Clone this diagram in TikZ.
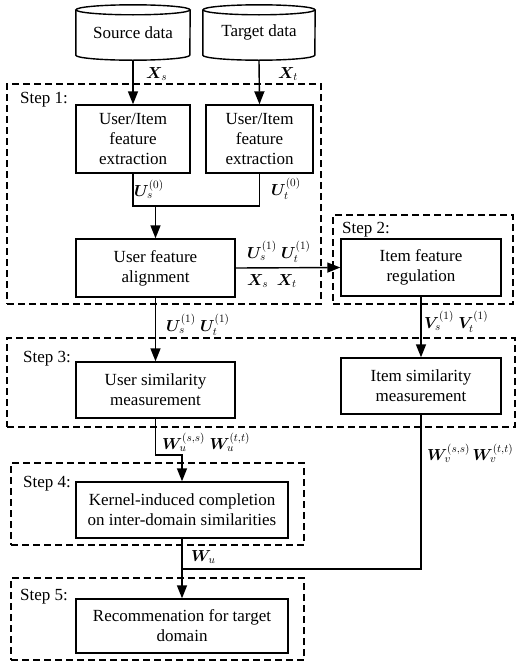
\RequirePackage{fix-cm}
\documentclass[tikz,border=0pt]{standalone}
\usepackage{amsmath,bm}
\usepackage{fontspec}
\setmainfont{Liberation Serif}
\usetikzlibrary{arrows.meta}

\begin{document}
\begin{tikzpicture}[x=1pt,y=1pt,
  every node/.style={font=\fontsize{17}{20}\selectfont},
  box/.style={draw, line width=1.4pt, align=center, inner sep=0pt},
  dbase/.style={inner sep=0pt, align=center},
  frame/.style={draw, line width=1.3pt, dash pattern=on 7pt off 4pt, inner sep=0pt},
  steplabel/.style={anchor=base west, inner sep=0pt},
  lbl/.style={anchor=west, inner sep=0pt, font=\fontsize{16}{19}\selectfont},
  flow/.style={line width=1.4pt},
  arr/.style={flow, -{Triangle[length=13pt,width=10pt]}},
]
\useasboundingbox (0,0) rectangle (517,-667);

% step frames
\node[frame, minimum width=314, minimum height=220] (s1) at (164,-194) {};
\node[frame, minimum width=180, minimum height=89]  (s2) at (423,-259.5) {};
\node[frame, minimum width=508, minimum height=89]  (s3) at (261,-382.5) {};
\node[frame, minimum width=293, minimum height=82]  (s4) at (157.5,-504) {};
\node[frame, minimum width=293, minimum height=82]  (s5) at (157.5,-619) {};

\node[steplabel] (l1) at (20,-103) {Step 1:};
\node[steplabel] (l2) at (342,-233) {Step 2:};
\node[steplabel] (l3) at (23,-362) {Step 3:};
\node[steplabel] (l4) at (23,-487) {Step 4:};
\node[steplabel] (l5) at (20,-600) {Step 5:};

% data stores
\node[dbase, minimum width=114, minimum height=55] (src) at (133,-32.5) {Source data};
\node[dbase, minimum width=112, minimum height=55] (tgt) at (259,-32.5) {Target data};
\foreach \n/\r in {src/57, tgt/56}{
  \draw[flow] ([yshift=-5pt]\n.north west) -- ([yshift=5pt]\n.south west)
    arc[start angle=180, end angle=360, x radius=\r pt, y radius=5pt]
    -- ([yshift=-5pt]\n.north east);
  \draw[flow] ([yshift=-5pt]\n.north) ellipse[x radius=\r pt, y radius=5pt];
}

% process boxes
\node[box, minimum width=114, minimum height=68] (ext1) at (133,-139) {User/Item\\feature\\extraction};
\node[box, minimum width=107, minimum height=68] (ext2) at (259.5,-139) {User/Item\\feature\\extraction};
\node[box, minimum width=159, minimum height=58] (align) at (155.5,-268) {User feature\\alignment};
\node[box, minimum width=160, minimum height=57] (ireg) at (421,-267.5) {Item feature\\regulation};
\node[box, minimum width=159, minimum height=56] (usim) at (155.5,-390) {User similarity\\measurement};
\node[box, minimum width=160, minimum height=56] (isim) at (421,-386) {Item similarity\\measurement};
\node[box, minimum width=212, minimum height=56] (kern) at (182,-510) {Kernel-induced completion\\on inter-domain similarities};
\node[box, minimum width=212, minimum height=54] (rec) at (182,-626) {Recommenation for target\\domain};

% connectors
\draw[arr] (src.south) -- (ext1.north);
\draw[arr] (tgt.south) -- (ext2.north);
\coordinate (mergeY) at (0,-206);
\draw[flow] (ext1.south) |- (ext2.south |- mergeY) -- (ext2.south);
\draw[arr] (align.north |- mergeY) -- (align.north);
\draw[arr] (align.east) -- (ireg.west);
\draw[arr] (align.south) -- (usim.north);
\draw[arr] (ireg.south) -- (isim.north);
\coordinate (bendU) at (0,-455);
\draw[arr] (usim.south) |- (kern.north |- bendU) -- (kern.north);
\draw[arr] (kern.south) -- (rec.north);
\coordinate (bendV) at (0,-569);
\draw[flow] (isim.south) |- (kern.south |- bendV);

% edge labels
\node[lbl] (xs) at (146,-74) {$\bm{X}_s$};
\node[lbl] (xt) at (278,-74) {$\bm{X}_t$};
\node[lbl] (us0) at (134,-189) {$\bm{U}_s^{(0)}$};
\node[lbl] (ut0) at (271,-189) {$\bm{U}_t^{(0)}$};
\node[lbl] (u1a) at (247,-252) {$\bm{U}_s^{(1)}\;\bm{U}_t^{(1)}$};
\node[lbl] (xst) at (247,-281) {$\bm{X}_s\;\;\bm{X}_t$};
\node[lbl] (u1b) at (166,-325) {$\bm{U}_s^{(1)}\;\bm{U}_t^{(1)}$};
\node[lbl] (v1) at (424,-322) {$\bm{V}_s^{(1)}\;\bm{V}_t^{(1)}$};
\node[lbl] (wu2) at (162,-442) {$\bm{W}_u^{(s,s)}\;\bm{W}_u^{(t,t)}$};
\node[lbl] (wv2) at (427,-453) {$\bm{W}_v^{(s,s)}\,\bm{W}_v^{(t,t)}$};
\node[lbl] (wu) at (191,-557) {$\bm{W}_u$};
\end{tikzpicture}
\end{document}
